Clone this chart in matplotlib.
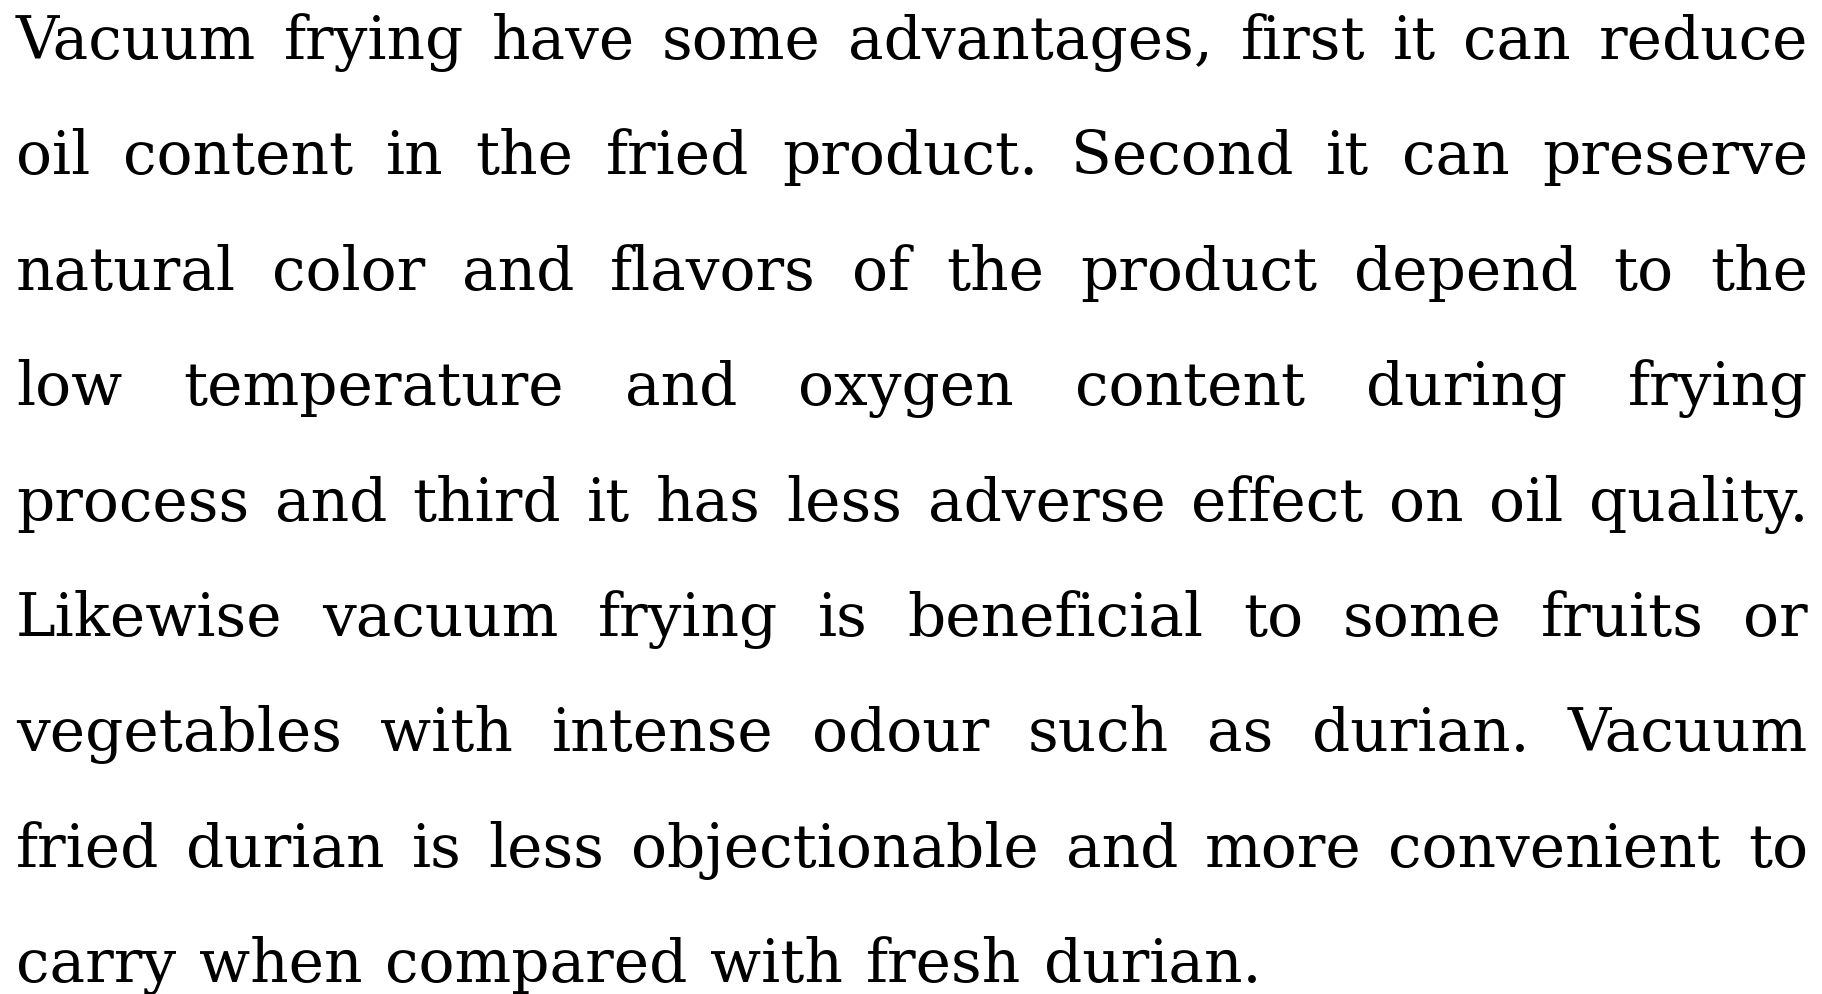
import matplotlib
matplotlib.use("Agg")
import matplotlib.pyplot as plt

# paragraph, one entry per printed line (justified except the last)
lines = [
    "Vacuum frying have some advantages, first it can reduce",
    "oil content in the fried product. Second it can preserve",
    "natural color and flavors of the product depend to the",
    "low temperature and oxygen content during frying",
    "process and third it has less adverse effect on oil quality.",
    "Likewise vacuum frying is beneficial to some fruits or",
    "vegetables with intense odour such as durian. Vacuum",
    "fried durian is less objectionable and more convenient to",
    "carry when compared with fresh durian.",
]

W, H = 1822, 994
left, right = 16, 1808
first_base, line_gap = 59, 115.4
fsize = 43

fig = plt.figure(figsize=(W / 100, H / 100), dpi=100)
ax = fig.add_axes([0, 0, 1, 1])
ax.set_xlim(0, W)
ax.set_ylim(H, 0)
ax.axis("off")

renderer = fig.canvas.get_renderer()
font = dict(family="DejaVu Serif", fontsize=fsize, color="black")

def width_of(s):
    t = ax.text(0, 0, s, **font)
    w = t.get_window_extent(renderer).width
    t.remove()
    return w

space = width_of("a a") - width_of("aa")

for i, line in enumerate(lines):
    y = first_base + i * line_gap
    words = line.split()
    widths = [width_of(w) for w in words]
    if i < len(lines) - 1 and len(words) > 1:
        gap = (right - left - sum(widths)) / (len(words) - 1)
    else:
        gap = space * 1.2
    x = left
    for w, wd in zip(words, widths):
        ax.text(x, y, w, ha="left", va="baseline", **font)
        x += wd + gap

fig.savefig("out.png", dpi=100, facecolor="white")
